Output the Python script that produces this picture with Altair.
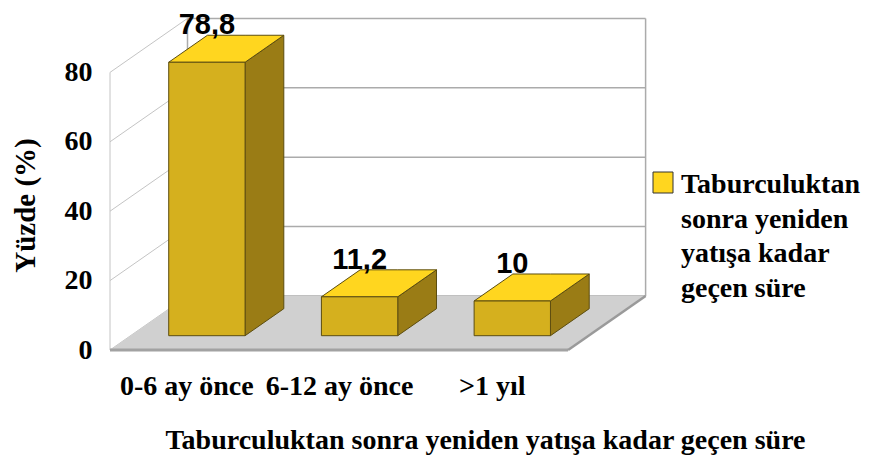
import json
import altair as alt
import pandas as pd

# ---------------- data ----------------
categories = ["0-6 ay önce", "6-12 ay önce", ">1 yıl"]
values = [78.8, 11.2, 10]
y_ticks = [0, 20, 40, 60, 80]
series_name = "Taburculuktan sonra yeniden yatışa kadar geçen süre"
legend_lines = ["Taburculuktan", "sonra yeniden", "yatışa kadar", "geçen süre"]
y_title = "Yüzde (%)"

# ---------------- geometry / style ----------------
W, H = 536, 332
PX_PER_BAND = 152.7
PX_PER_UNIT = 3.47
DX = 77.5 / PX_PER_BAND      # horizontal shift of full depth (band units)
DY = 54.0 / PX_PER_UNIT      # vertical shift of full depth (value units)
BAR_HALF = 0.25
D_FRONT, D_BACK = 0.265, 0.765
N = len(categories)
X_MAX = W / PX_PER_BAND
Y_MAX = H / PX_PER_UNIT

C_FRONT = "#D5B01E"
C_SIDE = "#9A7C15"
C_TOP = "#FFD61F"
C_EDGE = "#5C4D10"
SERIF = "Liberation Serif"
SANS = "Liberation Sans"


def fmt(v):
    return (f"{v:g}").replace(".", ",")


xs = alt.Scale(domain=[0, X_MAX], nice=False, zero=False)
ys = alt.Scale(domain=[0, Y_MAX], nice=False, zero=False)

label_expr = json.dumps(categories, ensure_ascii=False) + "[floor(datum.value)]"
x_axis = alt.Axis(
    values=[i + 0.5 for i in range(N)], labelExpr=label_expr, grid=False, ticks=False,
    domain=False, labelOverlap=False, labelFlush=False, labelBound=False,
    labelFont=SERIF, labelFontWeight="bold", labelFontSize=28, labelColor="black",
    labelBaseline="alphabetic", labelPadding=44,
    title=series_name, titleFont=SERIF, titleFontWeight="bold", titleFontSize=28,
    titleColor="black", titleX=375, titleY=98, titleAlign="center",
    titleBaseline="alphabetic", titleAnchor="start",
)
y_axis = alt.Axis(
    values=y_ticks, grid=False, ticks=False, domain=False, labelOverlap=False,
    labelFlush=False, labelFont=SERIF, labelFontWeight="bold", labelFontSize=28,
    labelColor="black", labelPadding=18, labelBaseline="middle", labelOffset=0,
    title=y_title, titleFont=SERIF, titleFontWeight="bold", titleFontSize=29,
    titleColor="black", titleX=-76, titleY=187, titleAlign="center",
    titleBaseline="alphabetic", titleAngle=-90, titleAnchor="start",
)


def X(f="X"):
    return alt.X(f"{f}:Q", scale=xs, axis=x_axis)


def Y(f="Y"):
    return alt.Y(f"{f}:Q", scale=ys, axis=y_axis, stack=None)


# ---------------- walls ----------------
back_grid = pd.DataFrame({"X": [DX] * len(y_ticks), "X2": [N + DX] * len(y_ticks),
                          "Y": [t + DY for t in y_ticks]})
back_vert = pd.DataFrame({"X": [DX, N + DX], "Y": [DY, DY],
                          "Y2": [y_ticks[-1] + DY] * 2})
left_diag = pd.DataFrame({"X": [0.0] * len(y_ticks), "X2": [DX] * len(y_ticks),
                          "Y": y_ticks, "Y2": [t + DY for t in y_ticks]})
left_vert = pd.DataFrame({"X": [0.0], "Y": [0.0], "Y2": [float(y_ticks[-1])]})

l_back_grid = alt.Chart(back_grid).mark_rule(color="#ABABAB", strokeWidth=1.5).encode(
    x=X(), x2="X2:Q", y=Y())
l_back_vert = alt.Chart(back_vert).mark_rule(color="#ABABAB", strokeWidth=1.5).encode(
    x=X(), y=Y(), y2="Y2:Q")
l_left_diag = alt.Chart(left_diag).mark_rule(color="#C4C4C4", strokeWidth=1).encode(
    x=X(), x2="X2:Q", y=Y(), y2="Y2:Q")
l_left_vert = alt.Chart(left_vert).mark_rule(color="#C4C4C4", strokeWidth=1).encode(
    x=X(), y=Y(), y2="Y2:Q")

# ---------------- floor ----------------
floor = pd.DataFrame({"X": [0.0, DX, float(N), N + DX],
                      "Y": [0.0, DY, DY, DY],
                      "Y2": [0.0, 0.0, 0.0, DY]})
l_floor = alt.Chart(floor).mark_area(color="#D0D0D0", interpolate="linear").encode(
    x=X(), y=Y(), y2="Y2:Q")
floor_front = pd.DataFrame({"X": [0.0], "X2": [float(N)], "Y": [0.0]})
l_floor_front = alt.Chart(floor_front).mark_rule(color="#A2A2A2", strokeWidth=3).encode(
    x=X(), x2="X2:Q", y=Y())
floor_right = pd.DataFrame({"X": [float(N)], "X2": [N + DX], "Y": [0.0], "Y2": [DY]})
l_floor_right = alt.Chart(floor_right).mark_rule(color="#9A9A9A", strokeWidth=2.5).encode(
    x=X(), x2="X2:Q", y=Y(), y2="Y2:Q")

# ---------------- bars ----------------
front_rows, side_rows, top_rows, lab_rows = [], [], [], []
for i, (c, v) in enumerate(zip(categories, values)):
    cl, cr = i + 0.5 - BAR_HALF, i + 0.5 + BAR_HALF
    fy, by = D_FRONT * DY, D_BACK * DY
    fx, bx = D_FRONT * DX, D_BACK * DX
    front_rows.append({"cat": c, "X": cl + fx, "X2": cr + fx, "Y": fy, "Y2": v + fy})
    side_rows += [
        {"cat": c, "X": cr + fx, "Y": v + fy, "Y2": fy},
        {"cat": c, "X": cr + bx, "Y": v + by, "Y2": by},
    ]
    top_rows += [
        {"cat": c, "X": cl + fx, "Y": v + fy, "Y2": v + fy},
        {"cat": c, "X": cl + bx, "Y": v + by, "Y2": v + fy},
        {"cat": c, "X": cr + fx, "Y": v + by, "Y2": v + fy},
        {"cat": c, "X": cr + bx, "Y": v + by, "Y2": v + by},
    ]
    lab_rows.append({"cat": c, "X": i + 0.5 + fx, "Y": v + by, "txt": fmt(v)})

l_side = alt.Chart(pd.DataFrame(side_rows)).mark_area(
    color=C_SIDE, stroke=C_EDGE, strokeWidth=1, interpolate="linear").encode(
    x=X(), y=Y(), y2="Y2:Q", detail="cat:N")
l_top = alt.Chart(pd.DataFrame(top_rows)).mark_area(
    color=C_TOP, stroke=C_EDGE, strokeWidth=1, interpolate="linear").encode(
    x=X(), y=Y(), y2="Y2:Q", detail="cat:N")
l_front = alt.Chart(pd.DataFrame(front_rows)).mark_rect(
    color=C_FRONT, stroke=C_EDGE, strokeWidth=1).encode(
    x=X(), x2="X2:Q", y=Y(), y2="Y2:Q")
l_labels = alt.Chart(pd.DataFrame(lab_rows)).mark_text(
    font=SANS, fontWeight="bold", fontSize=29, color="black", baseline="alphabetic",
    align="center", dy=-1).encode(x=X(), y=Y(), text="txt:N")

# ---------------- legend ----------------
leg_sym = alt.Chart(pd.DataFrame({"s": [series_name]})).mark_rect(
    color=C_TOP, stroke="#333333", strokeWidth=1).encode(
    x=alt.value(543), x2=alt.value(563), y=alt.value(154), y2=alt.value(175))
leg_txt = alt.Chart(pd.DataFrame({"s": ["\n".join(legend_lines)]})).mark_text(
    font=SERIF, fontWeight="bold", fontSize=28, color="black", align="left",
    baseline="alphabetic", lineBreak="\n", lineHeight=34.5).encode(
    x=alt.value(571), y=alt.value(175), text="s:N")

chart = alt.layer(
    l_back_grid, l_back_vert, l_left_diag, l_left_vert,
    l_floor, l_floor_front, l_floor_right,
    l_side, l_top, l_front, l_labels, leg_sym, leg_txt,
).properties(
    width=W, height=H,
    autosize=alt.AutoSizeParams(type="none"),
    padding={"left": 102, "top": 10, "right": 215, "bottom": 116},
    background="white",
).configure_view(stroke=None)

chart.save("out.html", embed_options={"renderer": "svg", "actions": False})
